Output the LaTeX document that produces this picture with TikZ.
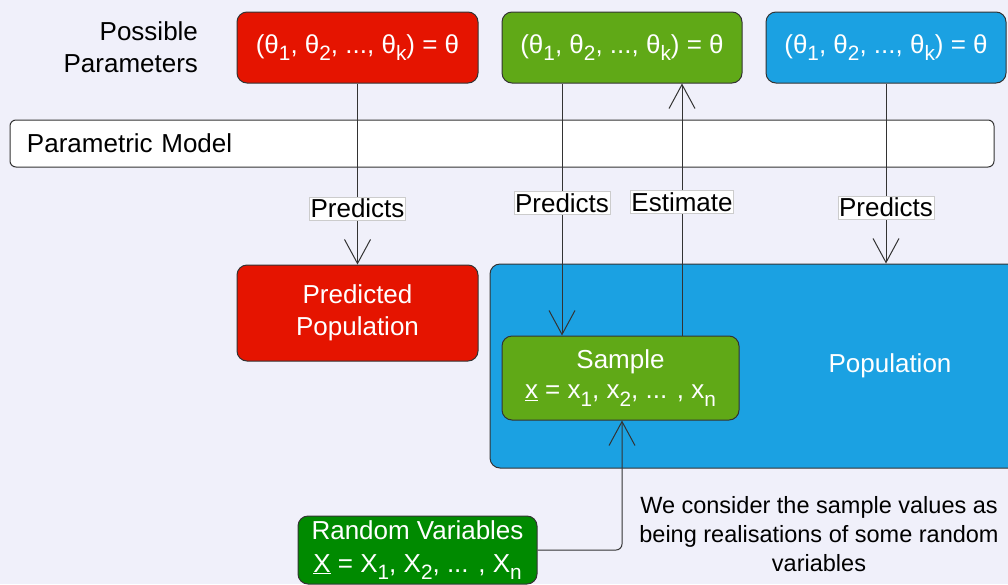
\documentclass[tikz,border=0pt]{standalone}
\usepackage{fontspec}
\setmainfont{Liberation Sans}
\setsansfont{Liberation Sans}
\usepackage{tikz}
\usetikzlibrary{calc,positioning,arrows.meta}

\definecolor{bgcol}{HTML}{F0F0FA}
\definecolor{redbox}{HTML}{E51400}
\definecolor{greenbox}{HTML}{60A917}
\definecolor{bluebox}{HTML}{1BA1E2}
\definecolor{darkgreenbox}{HTML}{008A00}
\definecolor{linecol}{HTML}{333333}

% subscript index, a bit larger and lower than \textsubscript
\newcommand{\subidx}[1]{\raisebox{-0.28em}{\fontsize{0.8em}{1em}\selectfont #1}}
\newcommand{\paramvec}{(θ\subidx{1}, θ\subidx{2}, ..., θ\subidx{k}) = θ}

\tikzset{
  bigtext/.style={font=\fontsize{26}{32}\selectfont},
  colbox/.style={draw=linecol,line width=1pt,rounded corners=10pt,text=white,
    align=center,inner sep=0pt,bigtext},
  lbl/.style={fill=white,draw=black!20,line width=0.6pt,inner xsep=1pt,inner ysep=2pt,
    text=black,bigtext},
  conn/.style={draw=linecol,line width=1pt,-{Straight Barb[length=24pt,width=26pt,line width=1pt]}},
}

\begin{document}
\begin{tikzpicture}[x=1pt,y=-1pt]
  \useasboundingbox (0,0) rectangle (1008,584);
  \clip (0,0) rectangle (1008,584);
  \fill[bgcol] (0,0) rectangle (1008,584);

  % parameter boxes
  \node[bigtext,align=right,anchor=east] (possible) at (201.5,47) {Possible\\Parameters};
  \node[colbox,fill=redbox,minimum width=241pt,minimum height=71pt] (ptred) at (357.5,47.5) {\paramvec};
  \node[colbox,fill=greenbox,minimum width=240pt,minimum height=71pt] (ptgreen) at (622,47.5) {\paramvec};
  \node[colbox,fill=bluebox,minimum width=240pt,minimum height=71pt] (ptblue) at (886,47.5) {\paramvec};

  % model bar
  \node[draw=linecol,line width=1pt,fill=white,rounded corners=6pt,minimum height=47pt,
    text width=950pt,inner xsep=17pt,inner ysep=0pt,align=left,bigtext] (model) at (502,143.5) {Parametric Model};

  % populations and sample
  \node[colbox,fill=redbox,minimum width=241pt,minimum height=96pt] (predpop) at (357.5,313) {Predicted\\Population};
  \node[colbox,fill=bluebox,minimum width=800pt,minimum height=204pt] (pop) at (890,366) {Population};
  \node[colbox,fill=greenbox,minimum width=237pt,minimum height=84pt,font=\fontsize{26}{30}\selectfont] (sample) at (620.5,378)
    {Sample\\\underline{x} = x\subidx{1}, x\subidx{2}, ... , x\subidx{n}};
  \node[colbox,fill=darkgreenbox,minimum width=239pt,minimum height=68pt,font=\fontsize{26}{33}\selectfont] (randvar) at (417.5,550)
    {Random Variables\\\underline{X} = X\subidx{1}, X\subidx{2}, ... , X\subidx{n}};
  \node[align=center,font=\fontsize{23.5}{29}\selectfont] (note) at (819,534)
    {We consider the sample values as\\being realisations of some random\\variables};

  % connectors
  \draw[conn] (ptred.south) -- node[lbl,pos=0.69] (predred) {Predicts} (predpop.north);
  \draw[conn] ([xshift=-60pt]ptgreen.south) -- node[lbl,pos=0.474] (predgreen) {Predicts}
    ([xshift=-60pt]ptgreen.south |- sample.north);
  \draw[conn] ([xshift=60pt]ptgreen.south |- sample.north) -- node[lbl,pos=0.53] (estim) {Estimate}
    ([xshift=60pt]ptgreen.south);
  \draw[conn] (ptblue.south) -- node[lbl,pos=0.69] (predblue) {Predicts} (ptblue.south |- pop.north);
  \draw[conn,rounded corners=6pt] (randvar.east) -| ([xshift=1.5pt]sample.south);
\end{tikzpicture}
\end{document}
